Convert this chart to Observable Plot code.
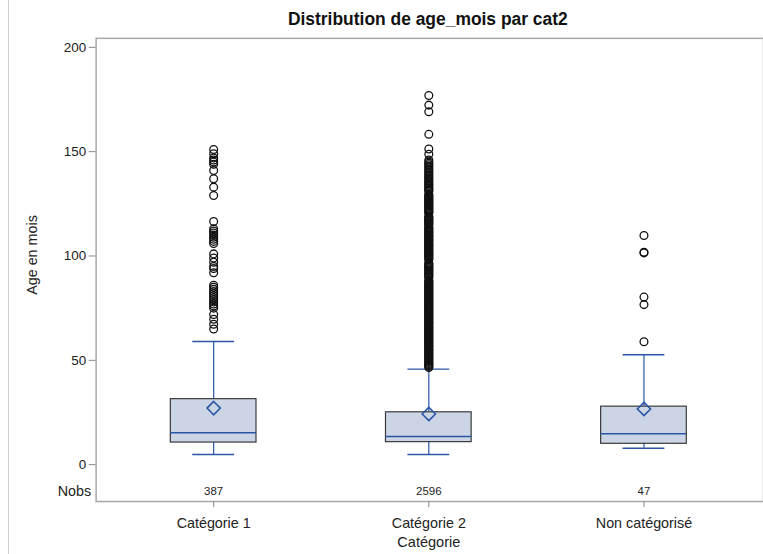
<!DOCTYPE html>
<html>
<head>
<meta charset="utf-8">
<script src="https://cdn.jsdelivr.net/npm/d3@7"></script>
<script src="https://cdn.jsdelivr.net/npm/@observablehq/plot@0.6"></script>
<style>
  html, body { margin: 0; padding: 0; background: #fff; }
  #wrap { position: relative; width: 763px; height: 554px; overflow: hidden; }
  #edge { position: absolute; left: 8px; top: 0; width: 1px; height: 554px; background: #d0d0d0; }
  #chart { position: absolute; left: 0; top: 0; }
</style>
</head>
<body>
<div id="wrap"><div id="edge"></div><div id="chart"></div></div>
<script>
const categories = ["Catégorie 1", "Catégorie 2", "Non catégorisé"];
const nobs = [387, 2596, 47];
const q1 = [10.6, 10.8, 10.0];
const median = [15.3, 13.5, 14.8];
const q3 = [31.4, 25.1, 27.8];
const mean = [27.1, 24.3, 26.7];
const whiskerLow = [4.9, 4.9, 7.9];
const whiskerHigh = [59.0, 45.8, 52.7];
const yTicks = [0, 50, 100, 150, 200];

const outliers1 = [151, 149, 147, 146, 145, 144, 141, 137, 133, 129,
  116.5, 113, 112, 111, 110, 109, 108, 107, 106,
  101, 99, 97, 95, 94, 92,
  86, 85, 84, 83, 82, 81, 80, 79, 78, 77, 76, 75, 72, 69.7, 67.3, 65];
const outliers2 = [46.6, 47.1, 47.5, 48.0, 48.5, 49.0, 49.4, 49.9, 50.4, 50.9, 51.3, 51.8, 52.3, 52.8,
  53.2, 53.7, 54.2, 54.7, 55.1, 55.6, 56.1, 56.6, 57.0, 57.5, 58.0, 58.5, 58.9, 59.4, 59.9, 60.4,
  60.8, 61.3, 61.8, 62.3, 62.7, 63.2, 63.7, 64.2, 64.6, 65.1, 65.6, 66.1, 66.5, 67.0, 67.5, 68.0,
  68.4, 68.9, 69.4, 69.9, 70.3, 70.8, 71.3, 71.8, 72.2, 72.7, 73.2, 73.7, 74.1, 74.6, 75.1, 75.6,
  76.0, 76.5, 77.0, 77.5, 77.9, 78.4, 78.9, 79.4, 79.8, 80.3, 80.8, 81.3, 81.7, 82.2, 82.7, 83.2,
  83.6, 84.1, 84.6, 85.1, 85.5, 86.0, 86.5, 87.0, 87.4, 87.9, 88.4, 89.6, 90.1, 90.6, 91.0, 91.5,
  92.0, 92.5, 92.9, 93.4, 93.9, 94.4, 94.8, 95.3, 95.8, 96.3, 96.7, 98.2, 98.7, 99.2, 99.7, 100.1,
  100.6, 101.1, 101.6, 102.0, 102.5, 103.0, 103.5, 103.9, 104.4, 104.9, 105.4, 105.8, 106.3, 106.8,
  107.3, 107.7, 108.2, 108.7, 109.2, 109.6, 110.1, 110.6, 111.1, 111.5, 112.0, 112.5, 113.0, 113.4,
  113.9, 114.8, 115.3, 115.8, 116.3, 116.7, 117.2, 117.7, 118.2, 118.6, 119.1, 120.5, 121.0, 121.5,
  121.9, 122.4, 122.9, 123.4, 123.8, 124.3, 124.8, 125.3, 125.7, 126.2, 126.7, 127.2, 127.6, 128.1,
  128.6, 129.1, 129.6, 131.0, 131.5, 132.0, 132.6, 133.2, 133.8, 134.4, 135.0, 135.6, 136.2, 136.9,
  137.5, 138.2, 138.8, 139.5, 140.2, 140.9, 141.6, 142.3, 143.0, 143.7, 144.4, 145.1,
  146.0, 148.8, 151.3, 158.3, 169.1, 172.3, 176.9];
const outliers3 = [109.8, 101.8, 101.5, 80.3, 76.7, 58.9];

const boxes = categories.map((c, i) => ({
  cat: c, nobs: nobs[i], q1: q1[i], median: median[i], q3: q3[i],
  mean: mean[i], lo: whiskerLow[i], hi: whiskerHigh[i]
}));
const outlierLists = [outliers1, outliers2, outliers3];
const outliers = outlierLists.flatMap((list, i) => list.map(v => ({cat: categories[i], v})));

const blue = "#2a56a5";
const font = "'Liberation Sans', Arial, sans-serif";

const chart = Plot.plot({
  width: 766,
  height: 554,
  marginTop: 38,
  marginBottom: 51,
  marginLeft: 96,
  marginRight: 0,
  style: {fontFamily: font, fontSize: "13px", color: "#222", background: "transparent"},
  x: {type: "band", domain: categories, range: [105, 755], padding: 0},
  y: {domain: [0, 200], range: [466, 47]},
  marks: [
    Plot.frame({stroke: "#a8a8a8", strokeWidth: 1.5}),
    Plot.axisY({ticks: yTicks, tickSize: 7, tickPadding: 3, label: null, stroke: "#888", fill: "#222", fontSize: 13.5}),
    Plot.axisX({tickSize: 6, tickPadding: 10, label: null, stroke: "#888", fill: "#222", fontSize: 14.4}),
    Plot.ruleX(boxes, {x: "cat", y1: "q3", y2: "hi", stroke: blue, strokeWidth: 1.2}),
    Plot.ruleX(boxes, {x: "cat", y1: "lo", y2: "q1", stroke: blue, strokeWidth: 1.2}),
    Plot.barY(boxes, {x: "cat", y1: "q1", y2: "q3", insetLeft: 65, insetRight: 65, fill: "#cbd5e6", stroke: "#3a3a3a", strokeWidth: 1.2}),
    Plot.tickY(boxes, {x: "cat", y: "median", insetLeft: 65, insetRight: 65, stroke: blue, strokeWidth: 1.4}),
    Plot.tickY(boxes, {x: "cat", y: "hi", insetLeft: 87, insetRight: 87, stroke: blue, strokeWidth: 1.4}),
    Plot.tickY(boxes, {x: "cat", y: "lo", insetLeft: 87, insetRight: 87, stroke: blue, strokeWidth: 1.4}),
    Plot.dot(boxes, {x: "cat", y: "mean", symbol: "diamond2", r: 6, stroke: blue, strokeWidth: 1.6, fill: "none"}),
    Plot.dot(outliers, {x: "cat", y: "v", r: 3.9, stroke: "#111", strokeWidth: 1.3, fill: "none"}),
    Plot.text(boxes, {x: "cat", text: d => String(d.nobs), frameAnchor: "bottom", lineAnchor: "middle", dy: -10.5, fontSize: 11.5, fill: "#222"}),
    Plot.text(["Nobs"], {frameAnchor: "bottom-left", lineAnchor: "middle", dx: -5, dy: -10.5, textAnchor: "end", fontSize: 14.4, fill: "#222"}),
    Plot.text(["Catégorie"], {frameAnchor: "bottom", lineAnchor: "middle", dx: -1, dy: 41, fontSize: 14.6, fill: "#222"}),
    Plot.text(["Age en mois"], {frameAnchor: "left", lineAnchor: "middle", textAnchor: "middle", rotate: -90, dx: -64, dy: -15, fontSize: 14.4, fill: "#222"}),
    Plot.text(["Distribution de age_mois par cat2"], {frameAnchor: "top", lineAnchor: "middle", dx: -2, dy: -19, fontSize: 17.5, fontWeight: "bold", fill: "#111"})
  ]
});
document.getElementById("chart").appendChild(chart);
</script>
</body>
</html>
